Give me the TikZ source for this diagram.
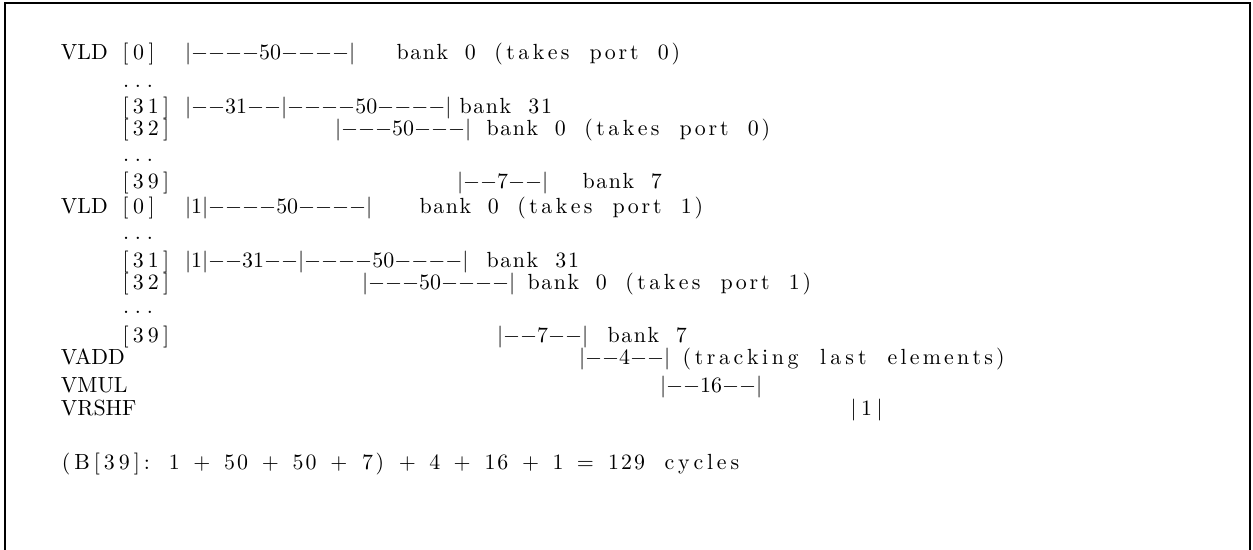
\documentclass[tikz,border=0pt]{standalone}
\usepackage{fontspec}
\newcommand\dsh{{-}}
\newcount\fxn
\newdimen\fxcw
\def\fxcount#1{\ifx#1\relax\else\advance\fxn 1 \expandafter\fxcount\fi}
\def\fxchars#1{\ifx#1\relax\else#1\hss\expandafter\fxchars\fi}
\def\fxword#1{\fxn=0 \fxcount#1\relax\hbox to \fxn\fxcw{\hss\fxchars#1\relax}}
\def\fxw#1 #2\fxend{\fxword{#1}\ifx\relax#2\relax\else\hbox to\fxcw{}\fxw#2\fxend\fi}
\newcommand\fx[1]{\fxcw=6.85pt\relax\fxw#1 \fxend}
\begin{document}
\begin{tikzpicture}[x=0.5pt,y=-0.5pt,
  every node/.style={inner sep=0pt,outer sep=0pt,anchor=base west,font=\fontsize{10.95}{13}\selectfont},
  frame/.style={line width=0.8pt}]
\useasboundingbox (0,0) rectangle (1253,550);
\draw[frame] (5,560) -- (5,3) -- (1250,3) -- (1250,560);
% block 1
\node (o1) at (61,60) {VLD};
\node (i1) at (118,60) {\fx{[0]}};
\node (g1) at (185,60) {$|\dsh\dsh\dsh\dsh50\dsh\dsh\dsh\dsh|$};
\node (t1) at (395,60) {\fx{bank 0 (takes port 0)}};
\node (d1) at (117.5,88) {\fx{...}};
\node (i2) at (118.5,114) {\fx{[31]}};
\node (g2) at (185,114) {$|\dsh\dsh31\dsh\dsh|\dsh\dsh\dsh\dsh50\dsh\dsh\dsh\dsh|$};
\node (t2) at (458,114) {\fx{bank 31}};
\node (i3) at (118.5,136) {\fx{[32]}};
\node (g3) at (335,136) {$|\dsh\dsh\dsh50\dsh\dsh\dsh|$};
\node (t3) at (485,136) {\fx{bank 0 (takes port 0)}};
\node (d2) at (117.5,162) {\fx{...}};
\node (i4) at (118.5,189) {\fx{[39]}};
\node (g4) at (457,189) {$|\dsh\dsh7\dsh\dsh|$};
\node (t4) at (581,189) {\fx{bank 7}};
% block 2
\node (o2) at (61,214) {VLD};
\node (i5) at (118,214) {\fx{[0]}};
\node (g5) at (185,214) {$|1|\dsh\dsh\dsh\dsh50\dsh\dsh\dsh\dsh|$};
\node (t5) at (418,214) {\fx{bank 0 (takes port 1)}};
\node (d3) at (117.5,240) {\fx{...}};
\node (i6) at (118.5,268) {\fx{[31]}};
\node (g6) at (185,268) {$|1|\dsh\dsh31\dsh\dsh|\dsh\dsh\dsh\dsh50\dsh\dsh\dsh\dsh|$};
\node (t6) at (485,268) {\fx{bank 31}};
\node (i7) at (118.5,290) {\fx{[32]}};
\node (g7) at (362,290) {$|\dsh\dsh\dsh50\dsh\dsh\dsh\dsh|$};
\node (t7) at (526,290) {\fx{bank 0 (takes port 1)}};
\node (d4) at (117.5,314) {\fx{...}};
\node (i8) at (118.5,343) {\fx{[39]}};
\node (g8) at (497,343) {$|\dsh\dsh7\dsh\dsh|$};
\node (t8) at (606,343) {\fx{bank 7}};
% other ops
\node (o3) at (61,365) {VADD};
\node (g9) at (579,365) {$|\dsh\dsh4\dsh\dsh|$};
\node (t9) at (679,365) {\fx{(tracking last elements)}};
\node (o4) at (61,393) {VMUL};
\node (g10) at (660,393) {$|\dsh\dsh16\dsh\dsh|$};
\node (o5) at (61,416) {VRSHF};
\node (g11) at (846,416) {\fx{|1|}};
\node (f1) at (58,470) {\fx{(B[39]: 1 + 50 + 50 + 7) + 4 + 16 + 1 = 129 cycles}};
\end{tikzpicture}
\end{document}
